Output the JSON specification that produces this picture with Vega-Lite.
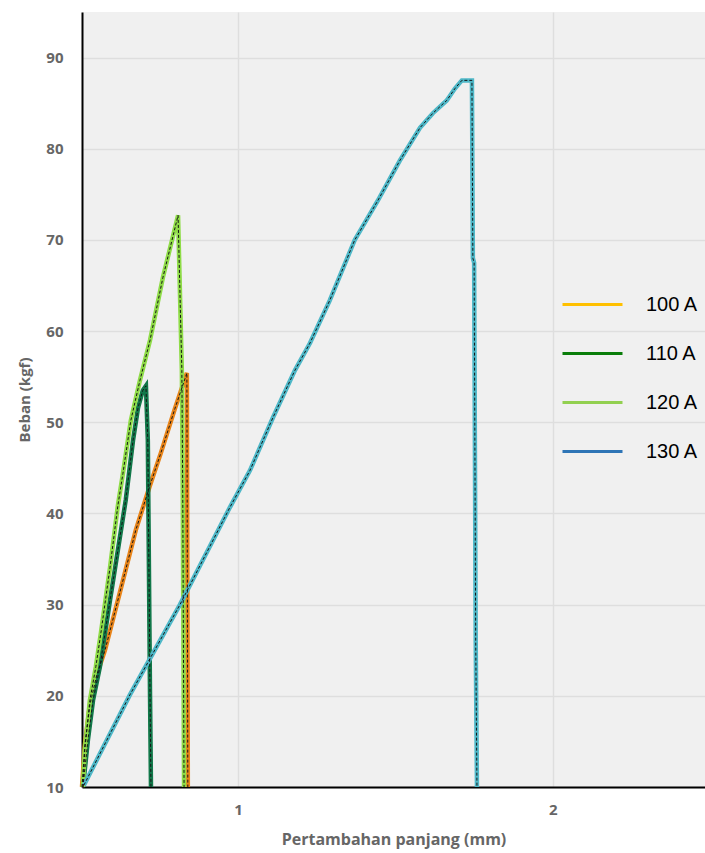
{
  "$schema": "https://vega.github.io/schema/vega-lite/v6.json",
  "width": 623,
  "height": 775,
  "autosize": {"type": "none"},
  "padding": {"left": 82, "top": 12, "right": 0, "bottom": 66},
  "background": "white",
  "config": {"view": {"fill": "#f0f0f0", "stroke": null}, "font": "Open Sans"},
  "data": {"values": [
    {"s": "100 A", "i": 1, "x": 0.505, "y": 10},
    {"s": "100 A", "i": 2, "x": 0.514, "y": 14.6},
    {"s": "100 A", "i": 3, "x": 0.530, "y": 19.0},
    {"s": "100 A", "i": 4, "x": 0.552, "y": 22.3},
    {"s": "100 A", "i": 5, "x": 0.578, "y": 25.0},
    {"s": "100 A", "i": 6, "x": 0.619, "y": 30.5},
    {"s": "100 A", "i": 7, "x": 0.676, "y": 38.2},
    {"s": "100 A", "i": 8, "x": 0.721, "y": 43.1},
    {"s": "100 A", "i": 9, "x": 0.756, "y": 46.7},
    {"s": "100 A", "i": 10, "x": 0.800, "y": 51.5},
    {"s": "100 A", "i": 11, "x": 0.838, "y": 55.4},
    {"s": "100 A", "i": 12, "x": 0.841, "y": 10},
    {"s": "110 A", "i": 1, "x": 0.508, "y": 10},
    {"s": "110 A", "i": 2, "x": 0.524, "y": 15.2},
    {"s": "110 A", "i": 3, "x": 0.540, "y": 19.5},
    {"s": "110 A", "i": 4, "x": 0.562, "y": 23.2},
    {"s": "110 A", "i": 5, "x": 0.594, "y": 30.5},
    {"s": "110 A", "i": 6, "x": 0.644, "y": 41.5},
    {"s": "110 A", "i": 7, "x": 0.667, "y": 48.0},
    {"s": "110 A", "i": 8, "x": 0.683, "y": 51.6},
    {"s": "110 A", "i": 9, "x": 0.698, "y": 53.5},
    {"s": "110 A", "i": 10, "x": 0.708, "y": 54.0},
    {"s": "110 A", "i": 11, "x": 0.714, "y": 48.0},
    {"s": "110 A", "i": 12, "x": 0.721, "y": 20.0},
    {"s": "110 A", "i": 13, "x": 0.724, "y": 10},
    {"s": "120 A", "i": 1, "x": 0.508, "y": 10},
    {"s": "120 A", "i": 2, "x": 0.514, "y": 14.1},
    {"s": "120 A", "i": 3, "x": 0.530, "y": 19.5},
    {"s": "120 A", "i": 4, "x": 0.549, "y": 23.2},
    {"s": "120 A", "i": 5, "x": 0.565, "y": 26.9},
    {"s": "120 A", "i": 6, "x": 0.594, "y": 34.1},
    {"s": "120 A", "i": 7, "x": 0.619, "y": 40.9},
    {"s": "120 A", "i": 8, "x": 0.635, "y": 44.4},
    {"s": "120 A", "i": 9, "x": 0.660, "y": 50.2},
    {"s": "120 A", "i": 10, "x": 0.689, "y": 54.6},
    {"s": "120 A", "i": 11, "x": 0.721, "y": 59.0},
    {"s": "120 A", "i": 12, "x": 0.762, "y": 65.9},
    {"s": "120 A", "i": 13, "x": 0.810, "y": 72.7},
    {"s": "120 A", "i": 14, "x": 0.822, "y": 55.7},
    {"s": "120 A", "i": 15, "x": 0.825, "y": 41.5},
    {"s": "120 A", "i": 16, "x": 0.829, "y": 10},
    {"s": "130 A", "i": 1, "x": 0.511, "y": 10.2},
    {"s": "130 A", "i": 2, "x": 0.657, "y": 20.1},
    {"s": "130 A", "i": 3, "x": 0.816, "y": 30.0},
    {"s": "130 A", "i": 4, "x": 0.975, "y": 40.7},
    {"s": "130 A", "i": 5, "x": 1.038, "y": 44.7},
    {"s": "130 A", "i": 6, "x": 1.111, "y": 50.5},
    {"s": "130 A", "i": 7, "x": 1.181, "y": 55.7},
    {"s": "130 A", "i": 8, "x": 1.229, "y": 58.7},
    {"s": "130 A", "i": 9, "x": 1.292, "y": 63.4},
    {"s": "130 A", "i": 10, "x": 1.371, "y": 70.0},
    {"s": "130 A", "i": 11, "x": 1.444, "y": 74.3},
    {"s": "130 A", "i": 12, "x": 1.514, "y": 78.7},
    {"s": "130 A", "i": 13, "x": 1.578, "y": 82.3},
    {"s": "130 A", "i": 14, "x": 1.619, "y": 83.9},
    {"s": "130 A", "i": 15, "x": 1.663, "y": 85.3},
    {"s": "130 A", "i": 16, "x": 1.689, "y": 86.6},
    {"s": "130 A", "i": 17, "x": 1.711, "y": 87.5},
    {"s": "130 A", "i": 18, "x": 1.743, "y": 87.5},
    {"s": "130 A", "i": 19, "x": 1.746, "y": 68.0},
    {"s": "130 A", "i": 20, "x": 1.750, "y": 67.5},
    {"s": "130 A", "i": 21, "x": 1.755, "y": 26.0},
    {"s": "130 A", "i": 22, "x": 1.759, "y": 10}
  ]},
  "encoding": {
    "x": {
      "field": "x", "type": "quantitative",
      "scale": {"domain": [0.505, 2.483], "nice": false, "zero": false},
      "axis": {
        "values": [1, 2], "format": "d", "title": "Pertambahan panjang (mm)",
        "grid": true, "gridColor": "#dedede", "gridWidth": 1.5,
        "domainColor": "#000000", "domainWidth": 2, "ticks": false,
        "labelPadding": 15, "labelColor": "#666666", "labelFontSize": 15, "labelFont": "Open Sans", "labelFontWeight": "bold",
        "titleFont": "Open Sans", "titleFontSize": 16, "titleColor": "#666666", "titleFontWeight": "bold", "titlePadding": 14
      }
    },
    "y": {
      "field": "y", "type": "quantitative",
      "scale": {"domain": [10, 95], "nice": false, "zero": false},
      "axis": {
        "values": [10, 20, 30, 40, 50, 60, 70, 80, 90], "title": "Beban (kgf)",
        "grid": true, "gridColor": "#dedede", "gridWidth": 1.5,
        "domainColor": "#000000", "domainWidth": 2, "ticks": false,
        "labelPadding": 19, "labelColor": "#666666", "labelFontSize": 15, "labelFont": "Open Sans", "labelFontWeight": "bold",
        "titleFont": "Open Sans", "titleFontSize": 15, "titleColor": "#666666", "titleFontWeight": "bold", "titlePadding": 13
      }
    },
    "order": {"field": "i", "type": "quantitative"}
  },
  "layer": [
    {
      "mark": {"type": "line", "strokeWidth": 3},
      "encoding": {
        "color": {
          "field": "s", "type": "nominal",
          "scale": {"domain": ["100 A", "110 A", "120 A", "130 A"], "range": ["#FFC000", "#0A7D0A", "#92D050", "#2E75B6"]},
          "legend": {
            "orient": "none", "legendX": 499, "legendY": 281, "title": null,
            "symbolType": "M-3,0H3", "symbolSize": 400, "symbolStrokeWidth": 3,
            "labelOffset": 42, "labelFontSize": 20, "labelFont": "Liberation Sans", "labelColor": "#000000",
            "rowPadding": 27, "padding": 0
          }
        }
      }
    },
    {
      "mark": {"type": "line", "strokeWidth": 4.5},
      "encoding": {
        "color": {
          "field": "s", "type": "nominal",
          "scale": {"domain": ["100 A", "110 A", "120 A", "130 A"], "range": ["#E8841A", "#12784A", "#8FDC48", "#4FB8C8"]},
          "legend": null
        }
      }
    },
    {
      "mark": {"type": "line", "strokeWidth": 1, "color": "#151515", "strokeDash": [3, 2]},
      "encoding": {"detail": {"field": "s", "type": "nominal"}}
    }
  ],
  "resolve": {"scale": {"color": "independent"}, "legend": {"color": "independent"}}
}
